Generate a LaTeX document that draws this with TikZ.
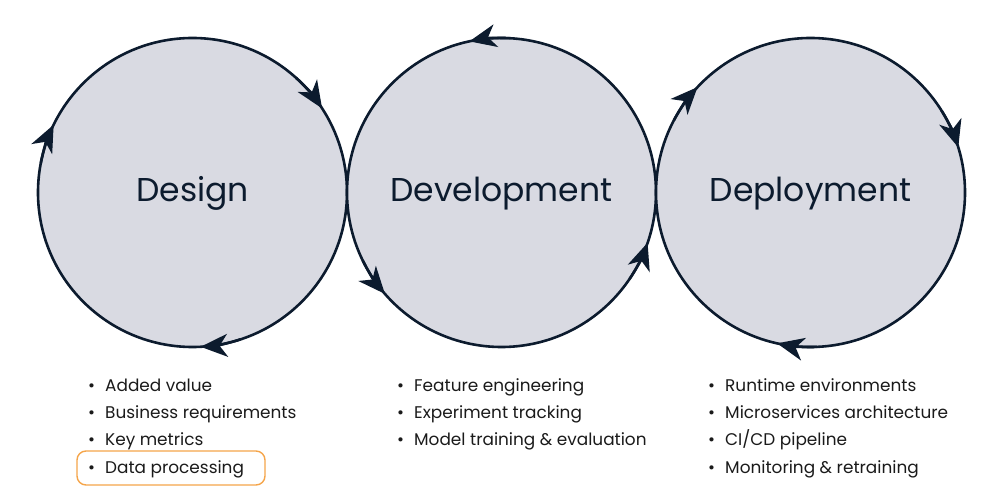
\documentclass[tikz,border=0pt]{standalone}
\usepackage{fontspec}
\setmainfont{Poppins}
\usetikzlibrary{arrows.meta}
\definecolor{navy}{HTML}{0C1B2E}
\definecolor{cfill}{HTML}{D9DAE2}
\definecolor{txt}{HTML}{1A1A1A}
\definecolor{hl}{HTML}{F5A54A}
\begin{document}
\begin{tikzpicture}[x=1pt,y=1pt,
  cyc/.style={circle, draw=navy, fill=cfill, line width=2.6pt, minimum size=309pt, inner sep=0pt},
  title/.style={anchor=base, inner sep=0pt, text=navy, font=\fontsize{33}{40}\selectfont},
  item/.style={anchor=base west, inner sep=0pt, text=txt, font=\fontsize{16.9}{20}\selectfont},
  arr/.style={draw=navy, line width=2.6pt, -{Stealth[length=27pt,width=23pt,inset=8pt]}},
  hlbox/.style={draw=hl, line width=1.4pt, rounded corners=9pt}]
\useasboundingbox (0,0) rectangle (1000,500);
\newcommand{\bul}{\llap{•\hspace{10pt}}}
% circles
\node[cyc] (des) at (192.5,307.5) {};
\node[cyc] (dev) at (501.5,307.5) {};
\node[cyc] (dep) at (810.5,307.5) {};
\node[title] (tdes) at (192.5,298) {Design};
\node[title] (tdev) at (501.5,298) {Development};
\node[title] (tdep) at (810.5,298) {Deployment};
% arrows on design (clockwise)
\foreach \a in {33,154,-87}{
  \draw[arr] ([shift={(\a+15:154.5pt)}]des.center) arc[start angle=\a+15, end angle=\a, radius=154.5pt];}
% arrows on development (counter-clockwise)
\foreach \a in {102,-139,-19}{
  \draw[arr] ([shift={(\a-15:154.5pt)}]dev.center) arc[start angle=\a-15, end angle=\a, radius=154.5pt];}
% arrows on deployment (clockwise)
\foreach \a in {137,17,-102.5}{
  \draw[arr] ([shift={(\a+15:154.5pt)}]dep.center) arc[start angle=\a+15, end angle=\a, radius=154.5pt];}
% lists
\node[item] (a1) at (105,108) {\bul Added value};
\node[item] (a2) at (105,81) {\bul Business requirements};
\node[item] (a3) at (105,54) {\bul Key metrics};
\node[item] (a4) at (105,27) {\bul Data processing};
\node[item] (b1) at (414,108) {\bul Feature engineering};
\node[item] (b2) at (414,81) {\bul Experiment tracking};
\node[item] (b3) at (414,54) {\bul Model training \& evaluation};
\node[item] (c1) at (725,108) {\bul Runtime environments};
\node[item] (c2) at (725,81) {\bul Microservices architecture};
\node[item] (c3) at (725,54) {\bul CI/CD pipeline};
\node[item] (c4) at (725,27) {\bul Monitoring \& retraining};
\draw[hlbox] (77,49) rectangle (265,15);
\end{tikzpicture}
\end{document}
